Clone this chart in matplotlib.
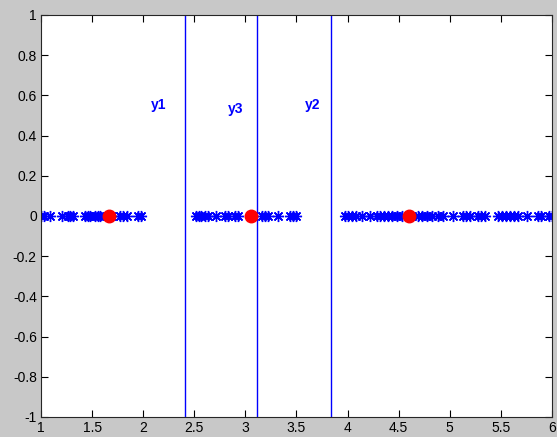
import matplotlib
matplotlib.use("Agg")
import matplotlib.pyplot as plt

# data
points_x = [1.00, 1.03, 1.09, 1.21, 1.26, 1.28, 1.31, 1.43, 1.46, 1.48, 1.53, 1.56, 1.58,
            1.66, 1.69, 1.77, 1.80, 1.84, 1.95, 1.98,
            2.52, 2.55, 2.57, 2.60, 2.63, 2.71, 2.80, 2.83, 2.90, 2.93, 3.05, 3.16, 3.19,
            3.22, 3.32, 3.44, 3.47, 3.50,
            3.97, 4.00, 4.04, 4.08, 4.14, 4.22, 4.29, 4.32, 4.36, 4.40, 4.43, 4.48, 4.53,
            4.63, 4.69, 4.73, 4.78, 4.83, 4.88, 4.93, 5.03, 5.13, 5.16, 5.20, 5.28, 5.31,
            5.34, 5.47, 5.51, 5.55, 5.59, 5.63, 5.67, 5.76, 5.86, 5.89, 5.97, 6.00]
points_y = [0.0] * len(points_x)
centers_x = [1.665, 3.05, 4.60]
centers_y = [0.0, 0.0, 0.0]
boundaries = [2.41, 3.11, 3.84]
labels = ["y1", "y3", "y2"]
label_x = [2.155, 2.905, 3.655]
label_y = [0.55, 0.53, 0.55]
xticks = [1, 1.5, 2, 2.5, 3, 3.5, 4, 4.5, 5, 5.5, 6]
yticks = [-1, -0.8, -0.6, -0.4, -0.2, 0, 0.2, 0.4, 0.6, 0.8, 1]

plt.rcParams['font.family'] = ['Liberation Sans', 'DejaVu Sans']
fig = plt.figure(figsize=(5.57, 4.37), dpi=100, facecolor='#c8c8c8')
ax = fig.add_axes([0.0736, 0.0458, 0.9174, 0.9199])
ax.set_facecolor('white')

for b in boundaries:
    ax.axvline(b, color='#0000ff', lw=1.0)
ax.plot(points_x, points_y, linestyle='none', marker=(8, 2, 0), markersize=8,
        color='#0000ff', markeredgewidth=1.0)
ax.plot(centers_x, centers_y, linestyle='none', marker='o', markersize=9,
        color='#ff0000', markeredgecolor='#ff0000')
for t, lx, ly in zip(labels, label_x, label_y):
    ax.text(lx, ly, t, color='#0000ff', fontweight='bold', fontsize=10,
            ha='center', va='center')

ax.set_xlim(1, 6)
ax.set_ylim(-1, 1)
ax.set_xticks(xticks)
ax.set_yticks(yticks)
ax.set_xticklabels([f"{v:g}" for v in xticks])
ax.set_yticklabels([f"{v:g}" for v in yticks])
ax.tick_params(direction='in', top=True, right=True, length=5, labelsize=10, pad=3)
for s in ax.spines.values():
    s.set_color('#262626')

fig.savefig('out.png', dpi=100, facecolor=fig.get_facecolor())
